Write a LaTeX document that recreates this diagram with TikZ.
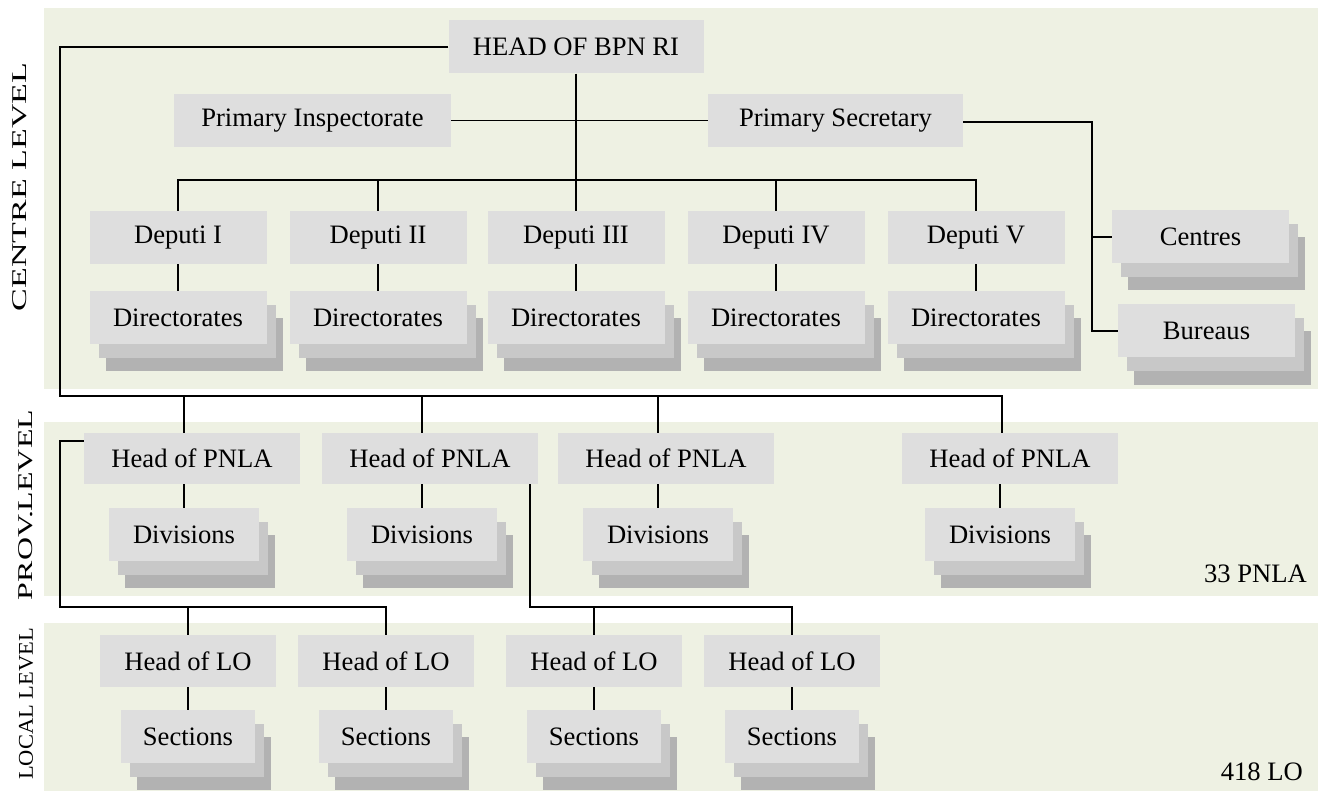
\documentclass[tikz,border=0pt]{standalone}
\usepackage{fontspec}
\setmainfont{Liberation Serif}
\usetikzlibrary{positioning,shadows}
\definecolor{bandbg}{RGB}{238,241,227}
\definecolor{boxbg}{RGB}{222,222,222}
\definecolor{shadA}{RGB}{200,200,200}
\definecolor{shadB}{RGB}{178,178,178}
\tikzset{
  unit/.style={fill=boxbg, inner sep=0pt, minimum height=53pt,
    font=\fontsize{26.6}{30}\selectfont},
  stack/.style={unit,
    general shadow={fill=shadB, shadow xshift=16pt, shadow yshift=-27pt},
    general shadow={fill=shadA, shadow xshift=9pt, shadow yshift=-13.5pt}},
  link/.style={line width=1.6pt},
  lvl/.style={rotate=90, inner sep=0pt, font=\fontsize{21}{24}\selectfont}
}

\begin{document}
\begin{tikzpicture}[x=1pt, y=-1pt]
      \useasboundingbox (0,0) rectangle (1322,791);
      \fill[bandbg] (44,8) rectangle (1318,389);
      \fill[bandbg] (44,422) rectangle (1318,596);
      \fill[bandbg] (44,623) rectangle (1318,791);

      \node[lvl] (lc) at (20,187) {\scalebox{1.62}[1]{CENTRE LEVEL}};
      \node[lvl] (lp) at (26,505) {\scalebox{1.52}[1]{PROV.LEVEL}};
      \node[lvl] (ll) at (26,704) {\scalebox{1.07}[1]{LOCAL LEVEL}};

      \node[unit, minimum width=255pt] (head) at (576,47) {HEAD OF BPN RI};
      \node[unit, minimum width=277pt] (insp) at (312.5,120.5) {Primary Inspectorate};
      \node[unit, minimum width=255pt] (secr) at (835.5,120.5) {Primary Secretary};

      \node[unit, minimum width=177pt] (d1) at (178,237.5) {Deputi I};
      \node[unit, minimum width=177pt] (d2) at (378,237.5) {Deputi II};
      \node[unit, minimum width=177pt] (d3) at (576,237.5) {Deputi III};
      \node[unit, minimum width=177pt] (d4) at (776,237.5) {Deputi IV};
      \node[unit, minimum width=177pt] (d5) at (976,237.5) {Deputi V};

      \node[stack, minimum width=177pt, below=27pt of d1] (dir1) {Directorates};
      \node[stack, minimum width=177pt, below=27pt of d2] (dir2) {Directorates};
      \node[stack, minimum width=177pt, below=27pt of d3] (dir3) {Directorates};
      \node[stack, minimum width=177pt, below=27pt of d4] (dir4) {Directorates};
      \node[stack, minimum width=177pt, below=27pt of d5] (dir5) {Directorates};

      \node[stack, minimum width=177pt] (cen) at (1200.5,237) {Centres};
      \node[stack, minimum width=177pt] (bur) at (1206.5,331) {Bureaus};

      \node[unit, minimum width=216pt, minimum height=51pt] (p1) at (192,458.5) {Head of PNLA};
      \node[unit, minimum width=216pt, minimum height=51pt] (p2) at (430,458.5) {Head of PNLA};
      \node[unit, minimum width=216pt, minimum height=51pt] (p3) at (666,458.5) {Head of PNLA};
      \node[unit, minimum width=216pt, minimum height=51pt] (p4) at (1010,458.5) {Head of PNLA};

      \node[stack, minimum width=150pt] (div1) at (184,534.5) {Divisions};
      \node[stack, minimum width=150pt] (div2) at (422,534.5) {Divisions};
      \node[stack, minimum width=150pt] (div3) at (658,534.5) {Divisions};
      \node[stack, minimum width=150pt] (div4) at (1000,534.5) {Divisions};

      \node[unit, minimum width=176pt, minimum height=52pt] (lo1) at (188,661) {Head of LO};
      \node[unit, minimum width=176pt, minimum height=52pt] (lo2) at (386,661) {Head of LO};
      \node[unit, minimum width=176pt, minimum height=52pt] (lo3) at (594,661) {Head of LO};
      \node[unit, minimum width=176pt, minimum height=52pt] (lo4) at (792,661) {Head of LO};

      \node[stack, minimum width=134pt, below=23pt of lo1] (sec1) {Sections};
      \node[stack, minimum width=134pt, below=23pt of lo2] (sec2) {Sections};
      \node[stack, minimum width=134pt, below=23pt of lo3] (sec3) {Sections};
      \node[stack, minimum width=134pt, below=23pt of lo4] (sec4) {Sections};

      \node[unit, fill=none, anchor=base east] (n1) at (1307,582) {33 PNLA};
      \node[unit, fill=none, anchor=base east] (n2) at (1303,780) {418 LO};

      \coordinate (tl) at (60,47);
      \coordinate (bl) at (60,396);
      \coordinate (c1) at (184,396);
      \coordinate (c2) at (422,396);
      \coordinate (c3) at (658,396);
      \coordinate (c4) at (1002,396);
      \coordinate (dt) at (576,180);
      \coordinate (sr) at (1092,122);
      \coordinate (k1) at (60,441);
      \coordinate (k2) at (60,607);
      \coordinate (k3) at (530,607);

      \draw[link] (head) -- (d3);
      \draw[link] (insp) -- (secr);
      \draw[link] (d1.north) -- (d1.north |- dt) -- (d5.north |- dt) -- (d5.north);
      \draw[link] (d2.north |- dt) -- (d2.north);
      \draw[link] (d4.north |- dt) -- (d4.north);
      \draw[link] (d1) -- (dir1);
      \draw[link] (d2) -- (dir2);
      \draw[link] (d3) -- (dir3);
      \draw[link] (d4) -- (dir4);
      \draw[link] (d5) -- (dir5);
      \draw[link] (secr.east |- sr) -- (sr) |- (bur.west);
      \draw[link] (sr |- cen) -- (cen);

      \draw[link] (head.west) -- (tl) -- (bl) -- (c4) -- (c4 |- p4.north);
      \draw[link] (c1) -- (c1 |- p1.north);
      \draw[link] (c2) -- (c2 |- p2.north);
      \draw[link] (c3) -- (c3 |- p3.north);
      \draw[link] (p1.south -| div1) -- (div1);
      \draw[link] (p2.south -| div2) -- (div2);
      \draw[link] (p3.south -| div3) -- (div3);
      \draw[link] (p4.south -| div4) -- (div4);

      \draw[link] (k1 -| p1.west) -- (k1) -- (k2) -- (k2 -| lo2.north) -- (lo2.north);
      \draw[link] (k2 -| lo1.north) -- (lo1.north);
      \draw[link] (k3 |- p2.south) -- (k3) -- (k3 -| lo4.north) -- (lo4.north);
      \draw[link] (k3 -| lo3.north) -- (lo3.north);
      \draw[link] (lo1) -- (sec1);
      \draw[link] (lo2) -- (sec2);
      \draw[link] (lo3) -- (sec3);
      \draw[link] (lo4) -- (sec4);
\end{tikzpicture}
\end{document}
